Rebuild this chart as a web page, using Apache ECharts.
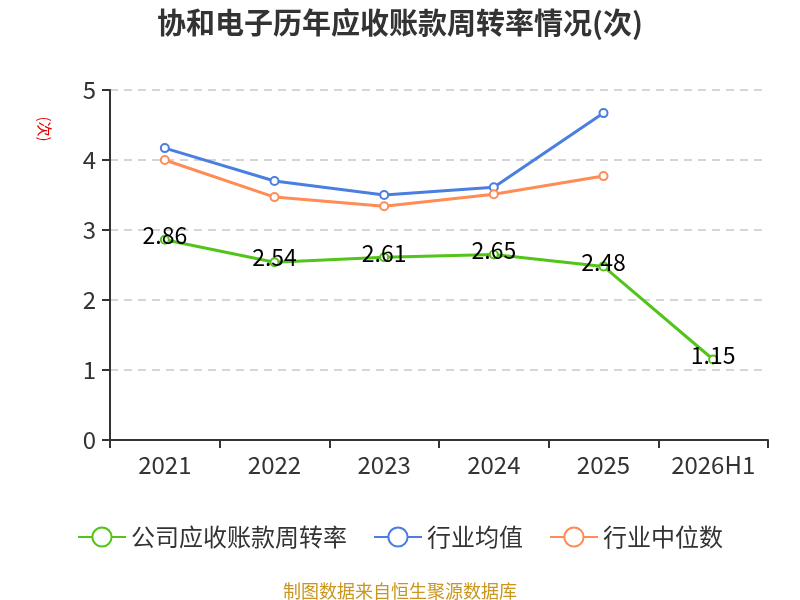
<!DOCTYPE html>
<html>
<head>
<meta charset="utf-8">
<script src="https://cdn.jsdelivr.net/npm/echarts@6/dist/echarts.min.js"></script>
<style>
    html, body { margin: 0; padding: 0; background: #fff; }
    #chart { width: 800px; height: 600px; }
</style>
</head>
<body>
<div id="chart"></div>
<script>
const years = ['2021', '2022', '2023', '2024', '2025', '2026H1'];
const companyRate = [2.86, 2.54, 2.61, 2.65, 2.48, 1.15];
const industryAvg = [4.17, 3.70, 3.50, 3.61, 4.67, null];
const industryMedian = [4.00, 3.47, 3.34, 3.51, 3.77, null];
const yTicks = [0, 5, 1]; // min, max, interval

const FONT = '"Noto Sans CJK SC", "Noto Sans", sans-serif';

const chart = echarts.init(document.getElementById('chart'));

function lineSeries(name, data, color, withLabel) {
    return {
        name: name,
        type: 'line',
        data: data,
        symbol: 'emptyCircle',
        symbolSize: 8,
        lineStyle: { width: 3, color: color },
        itemStyle: { color: color, borderWidth: 2 },
        label: {
            show: withLabel,
            position: 'top',
            offset: [0, 17],
            color: '#000',
            fontSize: 23,
            fontFamily: FONT
        },
        z: withLabel ? 3 : 2
    };
}

chart.setOption({
    animation: false,
    title: {
        text: '协和电子历年应收账款周转率情况(次)',
        left: 'center',
        top: 3,
        textStyle: { fontSize: 29, fontWeight: 'bold', color: '#333', fontFamily: FONT }
    },
    legend: {
        bottom: 46,
        left: 'center',
        itemWidth: 48,
        itemHeight: 24,
        itemGap: 26,
        textStyle: { fontSize: 24, color: '#333', fontFamily: FONT },
        data: ['公司应收账款周转率', '行业均值', '行业中位数']
    },
    grid: {
        left: 110,
        right: 32,
        top: 90,
        bottom: 160
    },
    graphic: [{
        type: 'text',
        left: 'center',
        bottom: 0,
        style: { text: '制图数据来自恒生聚源数据库', fill: '#c8961e', fontSize: 18, fontFamily: FONT }
    }, {
        type: 'text',
        x: 45,
        y: 129,
        rotation: -Math.PI / 2,
        style: { text: '(次)', fill: '#e00', fontSize: 15, fontFamily: FONT, align: 'center', verticalAlign: 'middle' }
    }],
    xAxis: {
        type: 'category',
        data: years,
        axisLine: { lineStyle: { color: '#333', width: 2 } },
        axisTick: { show: true, length: 8, lineStyle: { color: '#333', width: 2 } },
        axisLabel: { fontSize: 24, color: '#333', margin: 13, fontFamily: FONT }
    },
    yAxis: {
        type: 'value',
        min: yTicks[0],
        max: yTicks[1],
        interval: yTicks[2],
        axisLine: { show: true, lineStyle: { color: '#333', width: 2 } },
        axisTick: { show: true, length: 8, lineStyle: { color: '#333', width: 2 } },
        axisLabel: { fontSize: 24, color: '#333', margin: 14, fontFamily: FONT },
        splitLine: { lineStyle: { type: [8, 6], color: '#c8c8c8', width: 1.5 } }
    },
    series: [
        lineSeries('公司应收账款周转率', companyRate, '#52c41a', true),
        lineSeries('行业均值', industryAvg, '#4a7fe0', false),
        lineSeries('行业中位数', industryMedian, '#ff8c55', false)
    ]
});
</script>
</body>
</html>
